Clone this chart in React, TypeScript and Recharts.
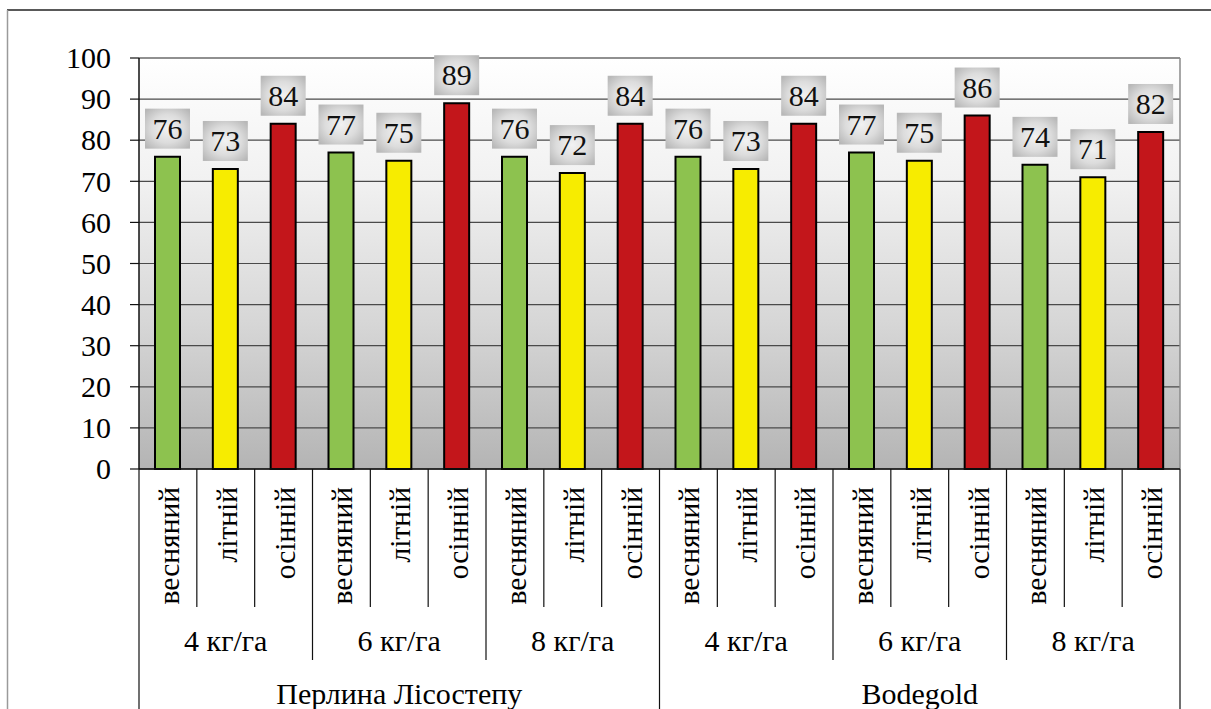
import React from 'react';
import { BarChart, Bar, XAxis, YAxis, CartesianGrid, Cell, LabelList } from 'recharts';

// Seasons of sowing, seeding rates and varieties
const seasons = ['весняний', 'літній', 'осінній'];
const doses = ['4 кг/га', '6 кг/га', '8 кг/га'];
const varieties = ['Перлина Лісостепу', 'Bodegold'];

// Values per variety, ordered dose by dose, season by season
const perlynaValues = [76, 73, 84, 77, 75, 89, 76, 72, 84];
const bodegoldValues = [76, 73, 84, 77, 75, 86, 74, 71, 82];

const yTicks = [0, 10, 20, 30, 40, 50, 60, 70, 80, 90, 100];

const seasonColors = ['#8dc24f', '#f7ec00', '#c3161b'];

const valuesByVariety = [perlynaValues, bodegoldValues];
const data = varieties.flatMap((variety, v) =>
  doses.flatMap((dose, d) =>
    seasons.map((season, s) => ({
      key: `${v}-${d}-${s}`,
      variety,
      dose,
      season,
      seasonIndex: s,
      value: valuesByVariety[v][d * 3 + s],
    }))
  )
);

// Layout
const WIDTH = 1211;
const HEIGHT = 709;
const PLOT_LEFT = 139;
const PLOT_RIGHT = 1180;
const PLOT_TOP = 58;
const X_AXIS_HEIGHT = 240;
const PLOT_BOTTOM = HEIGHT - X_AXIS_HEIGHT;
const BAND = (PLOT_RIGHT - PLOT_LEFT) / data.length;

const FONT = 'Liberation Serif';
const textStyle = (size: number) => ({ fontFamily: FONT, fontSize: size });

const SeparatorLine = ({ x, y2 }: { x: number; y2: number }) => (
  <line x1={x} x2={x} y1={PLOT_BOTTOM} y2={y2} stroke="#111" strokeWidth={1.2} />
);

// Three-level category axis: season (rotated), seeding rate, variety
const CategoryTick = (props: any) => {
  const { x, payload } = props;
  const i: number = payload.index;
  const row = data[i];
  const left = x - BAND / 2;
  const right = x + BAND / 2;
  const sepBottom = i % 9 === 0 ? HEIGHT : i % 3 === 0 ? 660 : 607;
  return (
    <g>
      <SeparatorLine x={left} y2={sepBottom} />
      {i === data.length - 1 && <SeparatorLine x={right} y2={HEIGHT} />}
      <text
        transform={`translate(${x + 11}, 487) rotate(-90)`}
        textAnchor="end"
        style={textStyle(29.5)}
        fill="#000"
      >
        {row.season}
      </text>
      {i % 3 === 1 && (
        <text x={x} y={651} textAnchor="middle" style={textStyle(30)} fill="#000">
          {row.dose}
        </text>
      )}
      {i % 9 === 4 && (
        <text x={x} y={704} textAnchor="middle" style={textStyle(30)} fill="#000">
          {row.variety}
        </text>
      )}
    </g>
  );
};

// Value label in a shaded box above each bar
const ValueBox = (props: any) => {
  const { x, y, width, value } = props;
  const cx = x + width / 2;
  const boxW = 45;
  const boxH = 40;
  const boxY = y - 8 - boxH;
  return (
    <g>
      <rect x={cx - boxW / 2} y={boxY} width={boxW} height={boxH} fill="url(#labelFill)" />
      <text
        x={cx}
        y={boxY + boxH / 2}
        dy="0.34em"
        textAnchor="middle"
        style={textStyle(30)}
        fill="#111"
      >
        {value}
      </text>
    </g>
  );
};

const Frame = () => (
  <g>
    <line x1={7} x2={WIDTH} y1={10} y2={10} stroke="#222" strokeWidth={1.5} />
    <line x1={7.5} x2={7.5} y1={10} y2={HEIGHT} stroke="#9a9a9a" strokeWidth={1.5} />
    <line x1={PLOT_LEFT} x2={PLOT_RIGHT} y1={PLOT_TOP} y2={PLOT_TOP} stroke="#8a8a8a" strokeWidth={1.5} />
    <line x1={PLOT_RIGHT} x2={PLOT_RIGHT} y1={PLOT_TOP} y2={PLOT_BOTTOM} stroke="#8a8a8a" strokeWidth={1.5} />
  </g>
);

const YTick = (props: any) => {
  const { x, y, payload } = props;
  return (
    <text x={x} y={y} dy="0.34em" textAnchor="end" style={textStyle(30)} fill="#000">
      {payload.value}
    </text>
  );
};

export default function App() {
  return (
    <div style={{ position: 'absolute', left: 0, top: 0, width: WIDTH, height: HEIGHT, background: '#fff' }}>
      <BarChart
        width={WIDTH}
        height={HEIGHT}
        data={data}
        margin={{ top: PLOT_TOP, right: WIDTH - PLOT_RIGHT, left: 0, bottom: 0 }}
        barSize={25}
      >
        <defs>
          <linearGradient id="plotFill" x1="0" y1="0" x2="0" y2="1">
            <stop offset="0%" stopColor="#ffffff" />
            <stop offset="30%" stopColor="#f1f1f1" />
            <stop offset="65%" stopColor="#d6d6d6" />
            <stop offset="100%" stopColor="#b4b4b4" />
          </linearGradient>
          <radialGradient id="labelFill" cx="50%" cy="50%" r="65%">
            <stop offset="0%" stopColor="#f2f2f2" />
            <stop offset="55%" stopColor="#dcdcdc" />
            <stop offset="100%" stopColor="#b8b8b8" />
          </radialGradient>
        </defs>
        <CartesianGrid vertical={false} stroke="#4a4a4a" strokeWidth={1.2} fill="url(#plotFill)" />
        <XAxis
          dataKey="key"
          height={X_AXIS_HEIGHT}
          interval={0}
          tickLine={false}
          axisLine={{ stroke: '#111', strokeWidth: 1.5 }}
          tick={<CategoryTick />}
        />
        <YAxis
          width={PLOT_LEFT}
          domain={[0, 100]}
          ticks={yTicks}
          interval={0}
          tickSize={9}
          tickMargin={19}
          axisLine={{ stroke: '#111', strokeWidth: 1.5 }}
          tickLine={{ stroke: '#111', strokeWidth: 1.2 }}
          tick={<YTick />}
        />
        <Frame />
        <Bar dataKey="value" stroke="#000" strokeWidth={2} isAnimationActive={false}>
          {data.map((d) => (
            <Cell key={d.key} fill={seasonColors[d.seasonIndex]} />
          ))}
          <LabelList dataKey="value" content={<ValueBox />} />
        </Bar>
      </BarChart>
    </div>
  );
}
